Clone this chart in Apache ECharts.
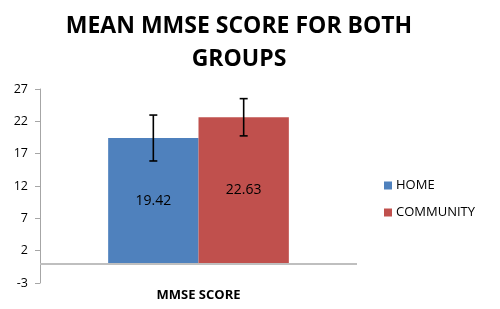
<!DOCTYPE html>
<html>
<head>
<meta charset="utf-8">
<script src="https://cdn.jsdelivr.net/npm/echarts@6/dist/echarts.min.js"></script>
<style>html,body{margin:0;padding:0;background:#fff}#c{width:500px;height:309px}</style>
</head>
<body>
<div id="c"></div>
<script>
var categories = ['MMSE SCORE'];
var seriesNames = ['HOME', 'COMMUNITY'];
var homeValues = [19.42];
var communityValues = [22.63];
var homeErr = [3.55];
var communityErr = [2.88];
var yTicks = { min: -3, max: 27, interval: 5 };
var colors = ['#4F81BD', '#C0504D'];
var FONT = 'Open Sans';

var chart = echarts.init(document.getElementById('c'), null, { renderer: 'canvas' });

var catGap = 0.43;
function errRender(offsetSign, errs, vals) {
  return function (params, api) {
    var i = api.value(0);
    var v = vals[i], e = errs[i];
    var band = api.size([1, 0])[0];
    var bw = band * (1 - catGap) / 2;
    var c = api.coord([i, v]);
    var x = c[0] + offsetSign * bw / 2;
    var top = api.coord([i, v + e])[1];
    var bot = api.coord([i, v - e])[1];
    var cap = 4;
    var st = { stroke: '#000', lineWidth: 1.6 };
    return {
      type: 'group',
      children: [
        { type: 'line', shape: { x1: x, y1: top, x2: x, y2: bot }, style: st },
        { type: 'line', shape: { x1: x - cap, y1: top, x2: x + cap, y2: top }, style: st },
        { type: 'line', shape: { x1: x - cap, y1: bot, x2: x + cap, y2: bot }, style: st }
      ]
    };
  };
}

chart.setOption({
  animation: false,
  textStyle: { fontFamily: FONT },
  title: {
    text: 'MEAN MMSE SCORE FOR BOTH\nGROUPS',
    left: 234, top: 5, textAlign: 'center',
    textStyle: { fontFamily: FONT, fontWeight: 'bold', fontSize: 23, lineHeight: 33, color: '#000' }
  },
  legend: {
    orient: 'vertical', left: 379, top: 174,
    itemWidth: 8, itemHeight: 8, itemGap: 14,
    icon: 'rect',
    textStyle: { fontFamily: FONT, fontSize: 13, color: '#000', padding: [0, 0, 0, -1] },
    data: seriesNames
  },
  grid: { left: 40, right: 143, top: 89, bottom: 26, containLabel: false },
  xAxis: {
    type: 'category', data: categories,
    axisLine: { show: false }, axisTick: { show: false },
    axisLabel: { margin: 6, fontFamily: FONT, fontSize: 13, fontWeight: 'bold', color: '#000' }
  },
  yAxis: {
    type: 'value', min: yTicks.min, max: yTicks.max, interval: yTicks.interval,
    axisLine: { show: true, lineStyle: { color: '#A6A6A6', width: 1 } },
    axisTick: { show: true, length: 5, lineStyle: { color: '#A6A6A6' } },
    axisLabel: { margin: 12, fontFamily: FONT, fontSize: 12.5, color: '#000' },
    splitLine: { show: false }
  },
  series: [
    {
      name: seriesNames[0], type: 'bar', data: homeValues,
      barGap: '0%', barCategoryGap: (catGap * 100) + '%',
      itemStyle: { color: colors[0] },
      label: { show: true, position: 'inside', fontFamily: FONT, fontSize: 14, color: '#000' },
      markLine: {
        silent: true, symbol: 'none', label: { show: false },
        lineStyle: { color: '#BFBFBF', type: 'solid', width: 2 },
        data: [{ yAxis: 0 }]
      }
    },
    {
      name: seriesNames[1], type: 'bar', data: communityValues,
      itemStyle: { color: colors[1] },
      label: { show: true, position: 'inside', fontFamily: FONT, fontSize: 14, color: '#000' }
    },
    {
      type: 'custom', name: 'errHome', data: [[0]], z: 10,
      renderItem: errRender(-1, homeErr, homeValues)
    },
    {
      type: 'custom', name: 'errCommunity', data: [[0]], z: 10,
      renderItem: errRender(1, communityErr, communityValues)
    }
  ]
});
</script>
</body>
</html>
